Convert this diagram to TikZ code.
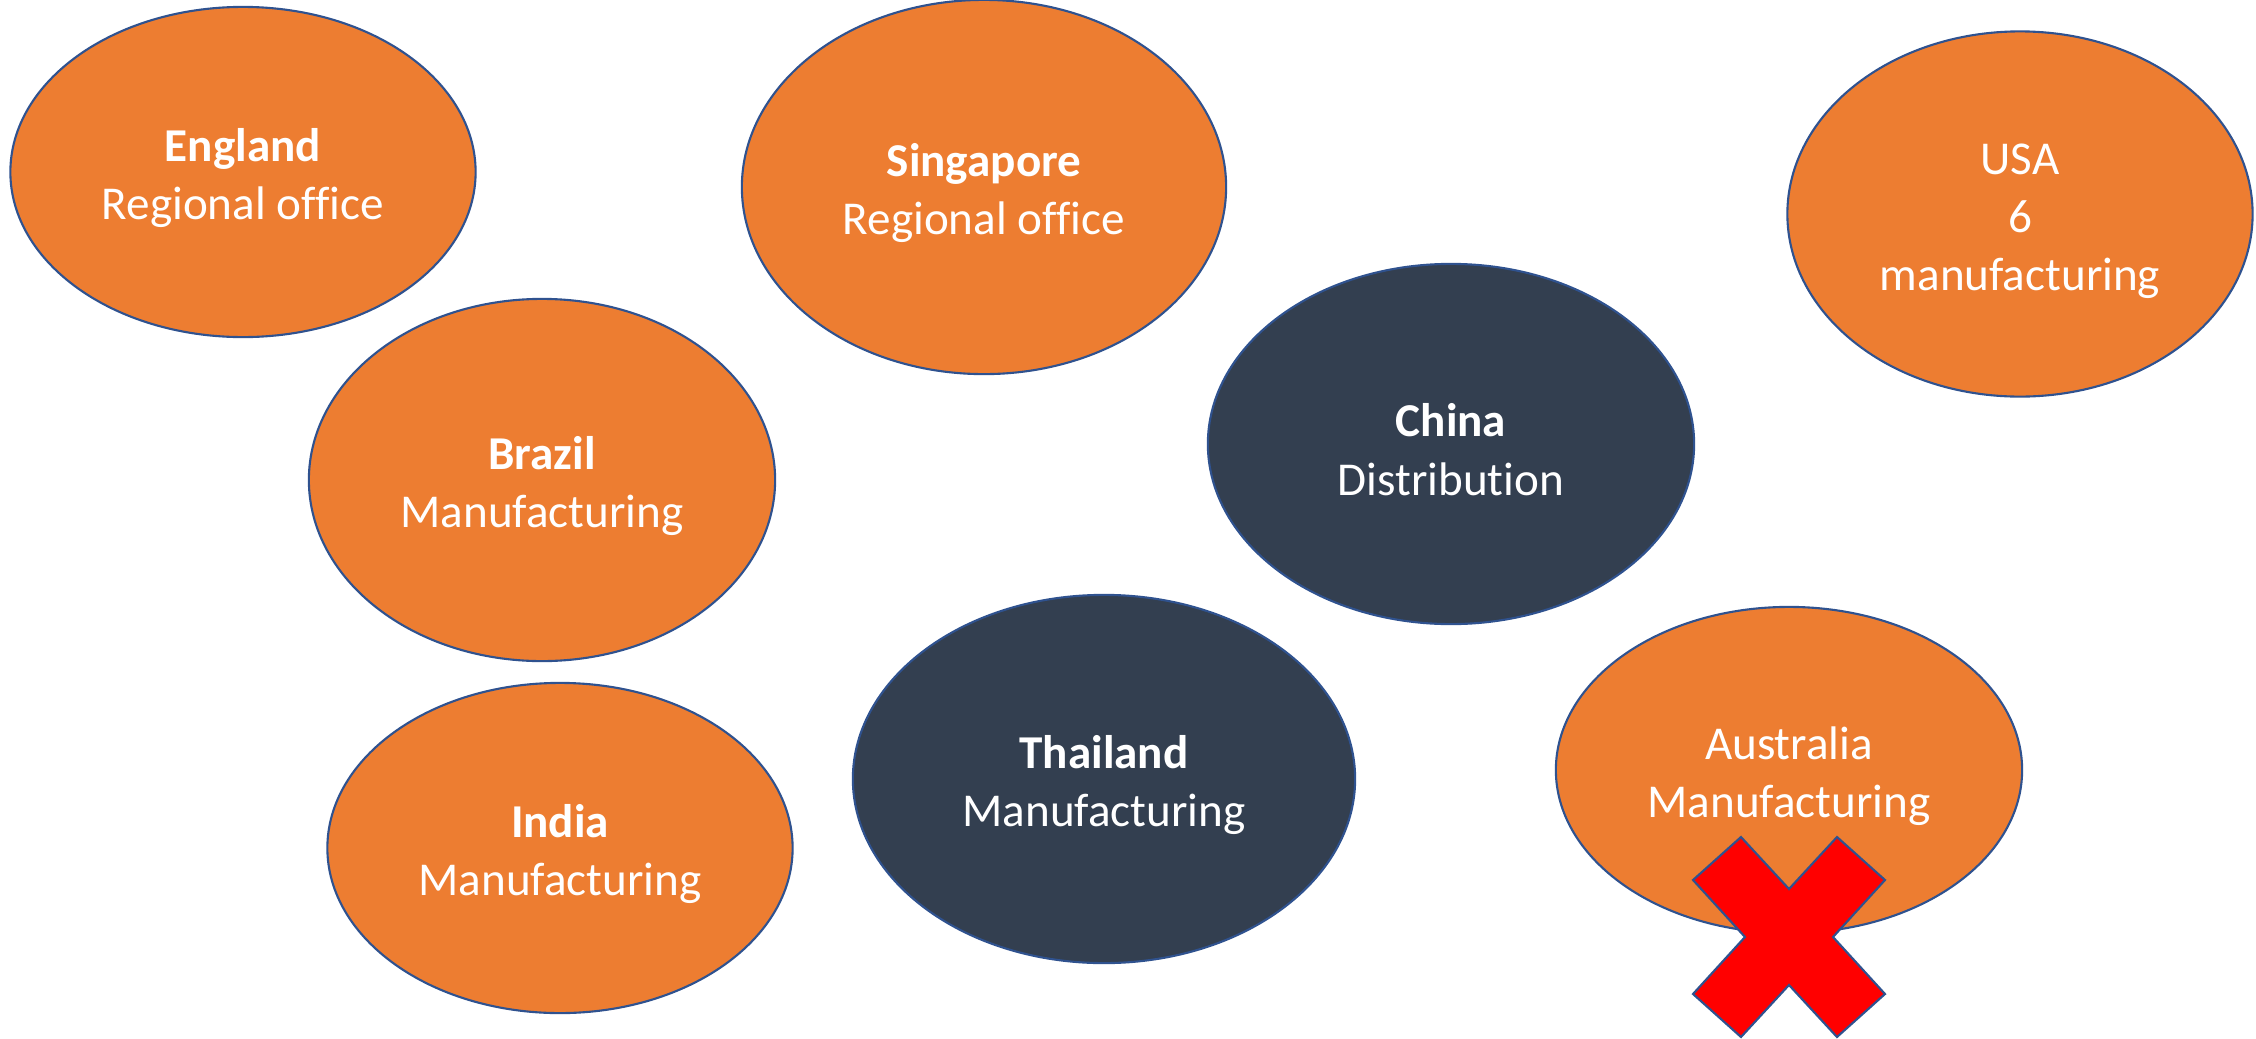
\documentclass[tikz,border=0pt]{standalone}
\usepackage{fontspec}
\setmainfont{Carlito}[Ligatures=NoCommon]
\usepackage{xcolor}
\usetikzlibrary{shapes.geometric}
\definecolor{accent}{HTML}{ED7D31}
\definecolor{slate}{HTML}{333F50}
\definecolor{rim}{HTML}{2F528F}
\definecolor{stop}{HTML}{FF0000}
% taller first line, sets the text a little lower in the ellipse
\newcommand\firstline{\rule{0pt}{12.6pt}}

\begin{document}
\begin{tikzpicture}[
 x=0.01cm,y=-0.01cm,
 e/.style={ellipse,draw=rim,line width=0.6pt,inner sep=0pt,align=center,
 text=white,font=\fontsize{13.4}{16.5}\selectfont},
 o/.style={e,fill=accent},
 d/.style={e,fill=slate},
 xmark/.style={draw=rim,fill=stop,line width=0.6pt,line join=miter}]
 \useasboundingbox (0,0) rectangle (2256,1039);
 \node[o,minimum width=4.65cm,minimum height=3.30cm] (en) at (243,172) {\firstline\textbf{England}\\Regional office};
 \node[o,minimum width=4.84cm,minimum height=3.74cm] (sg) at (984,187) {\firstline\textbf{Singapore}\\Regional office};
 \node[o,minimum width=4.65cm,minimum height=3.65cm] (us) at (2020,214) {\firstline USA\\6\\manufacturing};
 \node[o,minimum width=4.66cm,minimum height=3.62cm] (br) at (542,480) {\firstline\textbf{Brazil}\\Manufacturing};
 \node[d,minimum width=4.86cm,minimum height=3.60cm] (cn) at (1451,444) {\firstline\textbf{China}\\Distribution};
 \node[o,minimum width=4.65cm,minimum height=3.30cm] (ind) at (560,848) {\firstline\textbf{India}\\Manufacturing};
 \node[d,minimum width=5.02cm,minimum height=3.68cm] (th) at (1104,779) {\firstline\textbf{Thailand}\\Manufacturing};
 \node[o,minimum width=4.66cm,minimum height=3.26cm] (au) at (1789,770) {\firstline Australia\\Manufacturing};
 % cross over the Australia site
 \coordinate (xc) at (1789,937);
 \begin{scope}[shift={(xc)}]
 \draw[xmark] (-96,-57) -- (-48,-100) -- (0,-48) -- (48,-100) -- (96,-57)
 -- (44,0) -- (96,57) -- (48,100) -- (0,48) -- (-48,100) -- (-96,57)
 -- (-44,0) -- cycle;
 \end{scope}
\end{tikzpicture}
\end{document}
